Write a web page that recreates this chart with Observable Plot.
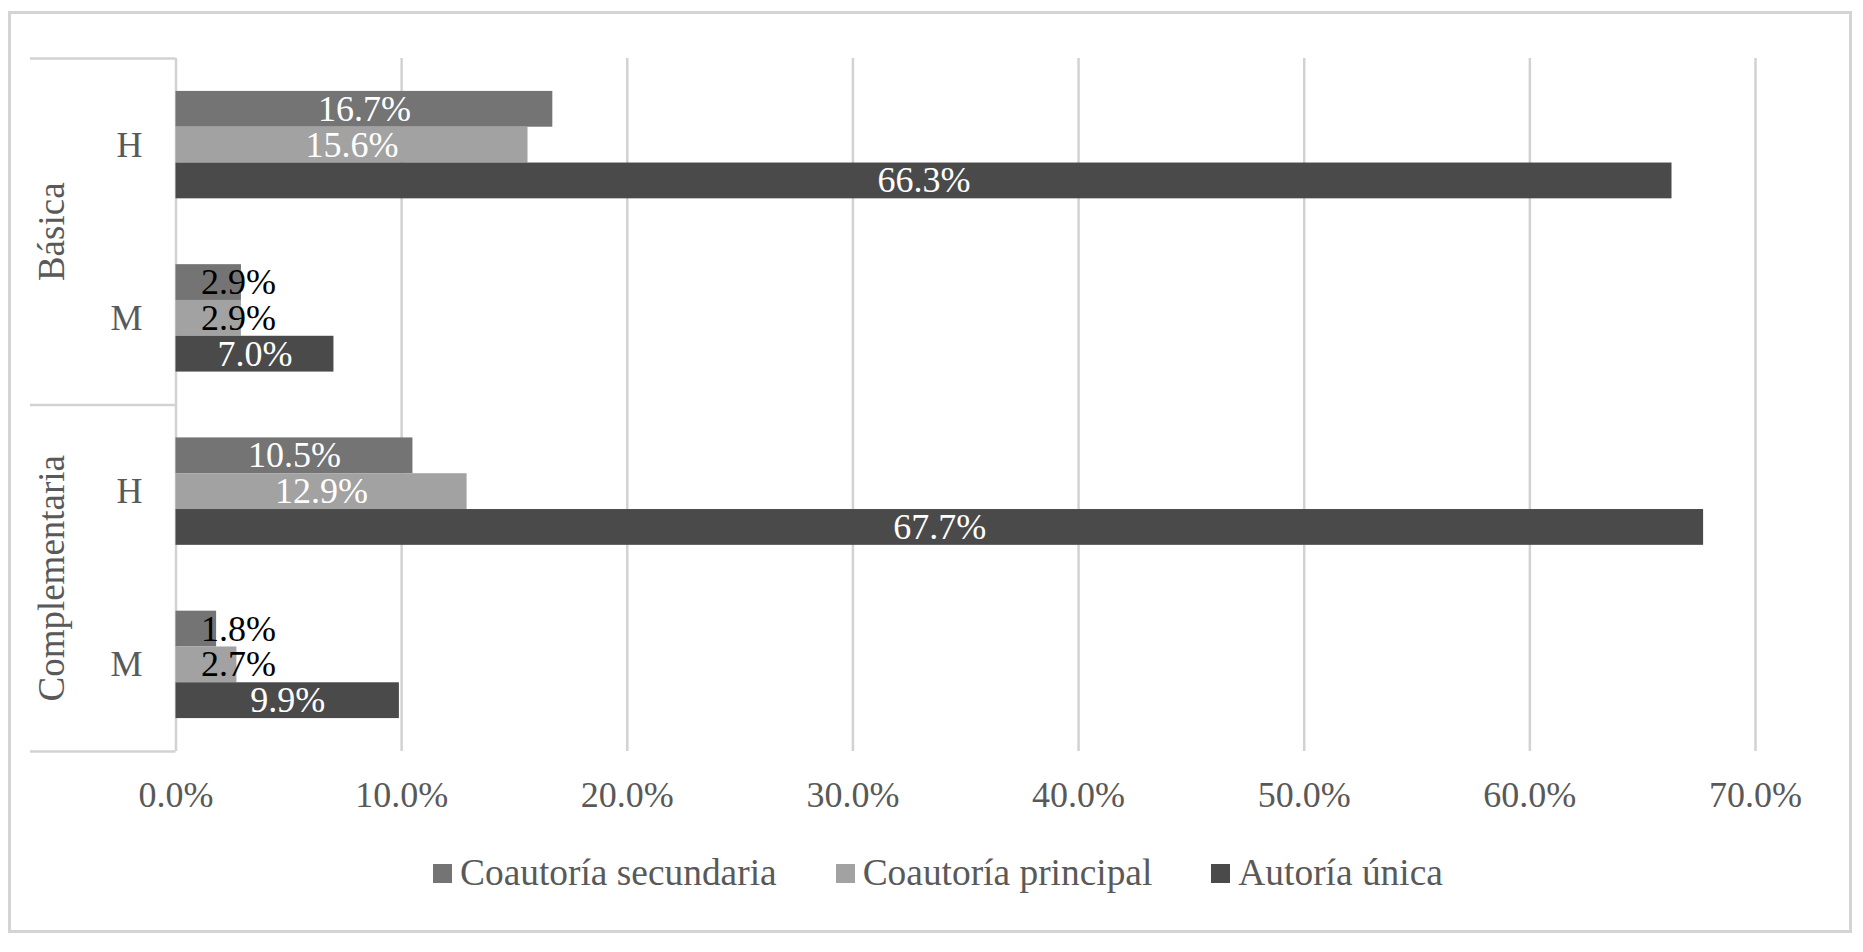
<!DOCTYPE html>
<html><head><meta charset="utf-8">
<script src="https://cdn.jsdelivr.net/npm/d3@7"></script>
<script src="https://cdn.jsdelivr.net/npm/@observablehq/plot@0.6"></script>
<style>
html,body{margin:0;padding:0;background:#fff;}
#frame{position:absolute;left:8px;top:11px;width:1844px;height:922px;box-sizing:border-box;border:3px solid #d4d4d4;background:#fff;}
#chart{position:absolute;left:0;top:0;}
#legend{position:absolute;left:422px;top:839px;display:flex;align-items:center;height:40px;font-family:"Liberation Serif","Times New Roman",serif;font-size:37.4px;color:#595959;white-space:nowrap;line-height:40px;}
.item{display:flex;align-items:center;margin-right:59px;}
.sw{width:19px;height:19px;margin-right:8px;}
</style></head>
<body><div id="frame"><div id="chart"></div><div id="legend"></div></div>
<script>
const groups = ["Básica", "Complementaria"];
const sexes = ["H", "M"];
const series = ["Coautoría secundaria", "Coautoría principal", "Autoría única"];
const colors = ["#747474", "#a2a2a2", "#4a4a4a"];
// values in %, order: Básica H, Básica M, Complementaria H, Complementaria M
const secundaria = [16.7, 2.9, 10.5, 1.8];
const principal = [15.6, 2.9, 12.9, 2.7];
const unica = [66.3, 7.0, 67.7, 9.9];
const xTicks = [0, 10, 20, 30, 40, 50, 60, 70];

const keys = groups.flatMap(g => sexes.map(s => g + "|" + s));
const seriesValues = [secundaria, principal, unica];
const rows = seriesValues.map((vals, k) => vals.map((v, i) => ({key: keys[i], series: series[k], k, value: v})));

const W = 1838, H = 806, mt = 44, mb = 69, ml = 164.5, mr = 94;
const pIn = 0.38, pOut = 0.19;
const serif = '"Liberation Serif", "Times New Roman", serif';
const lineColor = "#d2d2d2";
const fmt = d => d.value.toFixed(1) + "%";
const fits = d => d.value >= 5;

function build(bw, step) {
  const marks = [
    Plot.ruleX(xTicks, {stroke: lineColor, strokeWidth: 2.5})
  ];
  rows.forEach((data, k) => {
    marks.push(Plot.barX(data, {x: "value", y: "key", fill: colors[k],
      insetTop: k * bw / 3, insetBottom: (2 - k) * bw / 3}));
  });
  rows.forEach((data, k) => {
    marks.push(Plot.text(data.filter(fits), {x: d => d.value / 2, y: "key", dy: (k - 1) * bw / 3,
      text: fmt, fill: "white", fontSize: 36, fontFamily: serif, textAnchor: "middle"}));
    marks.push(Plot.text(data.filter(d => !fits(d)), {x: d => 0, y: "key", dy: (k - 1) * bw / 3, dx: 25,
      text: fmt, fill: "black", fontSize: 36, fontFamily: serif, textAnchor: "start"}));
  });
  // category axis separators
  marks.push(Plot.ruleY([keys[0]], {y: d => d, dy: -step / 2, stroke: lineColor, strokeWidth: 2.5,
    insetLeft: -145.5, insetRight: W - ml - mr}));
  marks.push(Plot.ruleY([keys[1], keys[3]], {y: d => d, dy: step / 2, stroke: lineColor, strokeWidth: 2.5,
    insetLeft: -145.5, insetRight: W - ml - mr}));
  // group labels
  marks.push(Plot.text(groups, {y: d => d + "|H", dy: step / 2, frameAnchor: "left", dx: -123.5,
    rotate: -90, textAnchor: "middle", text: d => d, fontSize: 37, fontFamily: serif, fill: "#595959"}));
  return Plot.plot({
    width: W, height: H, marginTop: mt, marginBottom: mb, marginLeft: ml, marginRight: mr,
    style: {fontFamily: serif, fontSize: "36px", color: "#595959", background: "transparent", overflow: "visible"},
    x: {domain: [0, 70], ticks: xTicks, tickFormat: d => d.toFixed(1) + "%", tickSize: 0, tickPadding: 30, label: null},
    y: {domain: keys, paddingInner: pIn, paddingOuter: pOut, round: false, tickSize: 0, tickPadding: 33.5,
      tickFormat: d => d.split("|")[1], label: null},
    marks
  });
}

let bw = 0, step = 0;
const p0 = build(0, 0);
try {
  const ys = p0.scale("y");
  bw = ys.bandwidth;
  step = ys.step || bw / (1 - pIn);
} catch (e) {}
if (!bw) {
  step = (H - mt - mb) / (keys.length - pIn + 2 * pOut);
  bw = step * (1 - pIn);
}
document.getElementById("chart").appendChild(build(bw, step));

const legend = document.getElementById("legend");
series.forEach((s, k) => {
  const it = document.createElement("div");
  it.className = "item";
  if (k === series.length - 1) it.style.marginRight = "0";
  const sw = document.createElement("div");
  sw.className = "sw";
  sw.style.background = colors[k];
  const t = document.createElement("span");
  t.textContent = s;
  it.appendChild(sw); it.appendChild(t);
  legend.appendChild(it);
});
</script>
</body></html>
